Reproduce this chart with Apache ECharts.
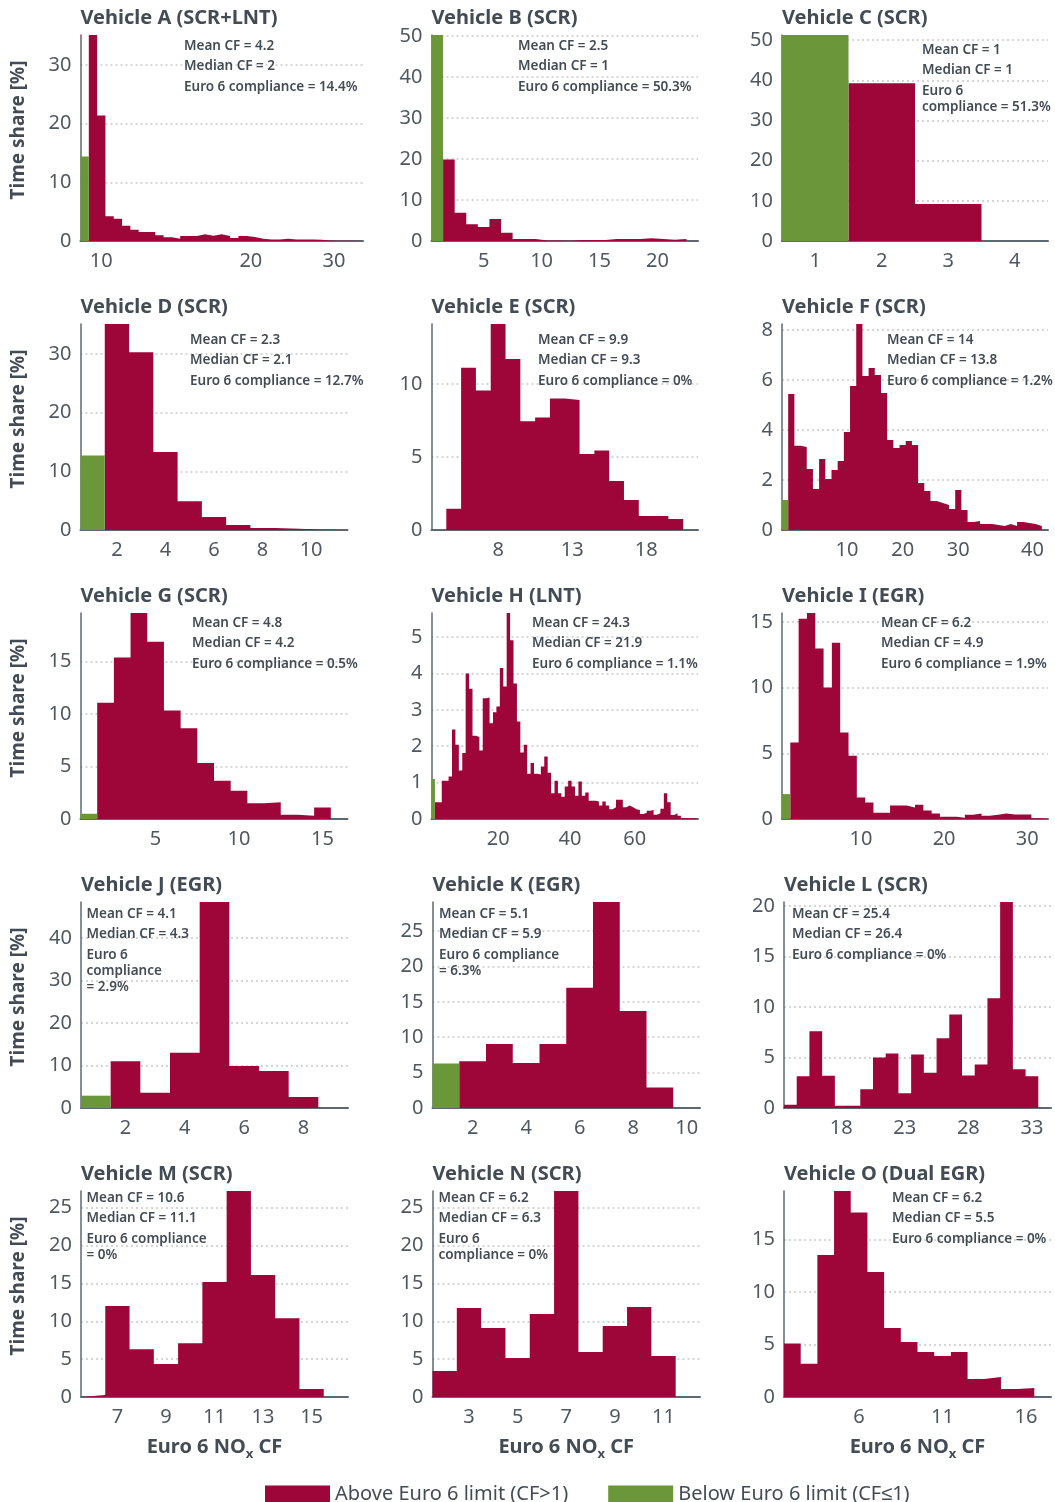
<!DOCTYPE html>
<html>
<head>
<meta charset="utf-8">
<script src="https://cdn.jsdelivr.net/npm/echarts@6.0.0/dist/echarts.min.js"></script>
<style>
html, body { margin: 0; padding: 0; background: #fff; }
#chart { width: 1055px; height: 1502px; }
</style>
</head>
<body>
<div id="chart"></div>
<script>
// time share [%] per CF bin, "below" bins (CF<=1) come first, then "above" bins
var belowA = [14.4];
var aboveA = [35.1, 21.4, 4.2, 3.8, 2.6, 1.9, 1.55, 1.55, 1.0, 0.65, 0.4, 0.85, 0.85, 1.15, 0.9, 1.15, 0.85, 0.5, 0.85, 0.7, 0.4, 0.25, 0.25, 0.4, 0.25, 0.25, 0.25, 0.2, 0.1, 0.05, 0.05, 0.05, 0];
var ticksA = [[2, '10'], [20, '20'], [30, '30']];
var notesA = ['Mean CF = 4.2', 'Median CF = 2', 'Euro 6 compliance = 14.4%'];

var belowB = [50.3];
var aboveB = [19.9, 6.9, 4.1, 3.4, 5.4, 2.0, 0.5, 0.5, 0.1, 0.1, 0.05, 0.25, 0.25, 0.25, 0.5, 0.5, 0.5, 0.7, 0.5, 0.3, 0.5, 0];
var ticksB = [[4, '5'], [9, '10'], [14, '15'], [19, '20']];
var notesB = ['Mean CF = 2.5', 'Median CF = 1', 'Euro 6 compliance = 50.3%'];

var belowC = [51.3];
var aboveC = [39.3, 9.2, 0];
var ticksC = [[0, '1'], [1, '2'], [2, '3'], [3, '4']];
var notesC = ['Mean CF = 1', 'Median CF = 1', 'Euro 6\ncompliance = 51.3%'];

var belowD = [12.7];
var aboveD = [35.1, 30.3, 13.3, 4.9, 2.2, 0.85, 0.35, 0.2, 0.05, 0.03];
var ticksD = [[1, '2'], [3, '4'], [5, '6'], [7, '8'], [9, '10']];
var notesD = ['Mean CF = 2.3', 'Median CF = 2.1', 'Euro 6 compliance = 12.7%'];

var belowE = [];
var aboveE = [0, 1.45, 11.1, 9.55, 14.1, 11.7, 7.45, 7.7, 9.0, 8.9, 5.2, 5.45, 3.35, 2.05, 0.95, 0.95, 0.75, 0];
var ticksE = [[4, '8'], [9, '13'], [14, '18']];
var notesE = ['Mean CF = 9.9', 'Median CF = 9.3', 'Euro 6 compliance = 0%'];

var belowF = [1.2];
var aboveF = [5.44, 3.37, 3.32, 2.44, 1.64, 2.84, 2.04, 2.4, 2.76, 3.92, 5.76, 8.24, 6.16, 6.48, 6.2, 5.48, 3.6, 3.28, 3.4, 3.56, 3.4, 1.88, 1.56, 1.16, 1.08, 1.0, 0.84, 1.6, 0.8, 0.32, 0.36, 0.24, 0.24, 0.2, 0.16, 0.24, 0.16, 0.32, 0.28, 0.24, 0.16, 0];
var ticksF = [[10, '10'], [19, '20'], [28, '30'], [40, '40']];
var notesF = ['Mean CF = 14', 'Median CF = 13.8', 'Euro 6 compliance = 1.2%'];

var belowG = [0.5];
var aboveG = [11.1, 15.4, 19.65, 16.9, 10.35, 8.65, 5.35, 3.65, 2.7, 1.5, 1.6, 0.4, 0.32, 1.1, 0];
var ticksG = [[4, '5'], [9, '10'], [14, '15']];
var notesG = ['Mean CF = 4.8', 'Median CF = 4.2', 'Euro 6 compliance = 0.5%'];

var belowH = [1.1];
var aboveH = [0.46, 0.46, 1.05, 1.05, 1.17, 2.46, 2.04, 1.33, 1.81, 4.0, 3.58, 2.29, 2.25, 1.88, 3.32, 3.34, 2.63, 2.93, 3.09, 4.15,
  3.64, 5.66, 4.91, 3.72, 2.68, 1.83, 2.04, 1.24, 1.54, 1.24, 1.22, 1.44, 1.72, 1.27, 0.71, 1.05, 0.71, 0.61, 0.89, 1.05,
  0.89, 0.64, 1.03, 0.64, 0.73, 0.5, 0.5, 0.48, 0.37, 0.48, 0.37, 0.27, 0.32, 0.53, 0.53, 0.32, 0.37, 0.32, 0.27, 0.25,
  0.14, 0.17, 0.23, 0.25, 0.12, 0.16, 0.28, 0.71, 0.46, 0.11, 0.16, 0.09, 0.03, 0.02, 0.02, 0.02, 0.02];
var ticksH = [[19, '20'], [40, '40'], [59, '60']];
var notesH = ['Mean CF = 24.3', 'Median CF = 21.9', 'Euro 6 compliance = 1.1%'];

var belowI = [1.9];
var aboveI = [5.83, 15.27, 15.7, 13.0, 10.03, 13.43, 6.59, 4.83, 1.63, 1.25, 0.48, 0.48, 1.02, 1.02, 0.87, 1.09, 0.64, 0.41, 0.18, 0.18, 0.1, 0.33, 0.41, 0.25, 0.33, 0.41, 0.35, 0.35, 0.35, 0.05, 0];
var ticksI = [[9, '10'], [19, '20'], [29, '30']];
var notesI = ['Mean CF = 6.2', 'Median CF = 4.9', 'Euro 6 compliance = 1.9%'];

var belowJ = [2.9];
var aboveJ = [11, 3.6, 13, 48.5, 9.9, 8.7, 2.6, 0];
var ticksJ = [[1, '2'], [3, '4'], [5, '6'], [7, '8']];
var notesJ = ['Mean CF = 4.1', 'Median CF = 4.3', 'Euro 6\ncompliance\n= 2.9%'];

var belowK = [6.3];
var aboveK = [6.6, 9.05, 6.37, 9.05, 17.0, 29.1, 13.7, 2.9, 0];
var ticksK = [[1, '2'], [3, '4'], [5, '6'], [7, '8'], [9, '10']];
var notesK = ['Mean CF = 5.1', 'Median CF = 5.9', 'Euro 6 compliance\n= 6.3%'];

var belowL = [];
var aboveL = [0.33, 3.14, 7.6, 3.2, 0.23, 0.23, 1.85, 5.0, 5.4, 1.45, 5.3, 3.5, 6.9, 9.27, 3.23, 4.32, 10.86, 20.4, 3.83, 3.14, 0];
var ticksL = [[4, '18'], [9, '23'], [14, '28'], [19, '33']];
var notesL = ['Mean CF = 25.4', 'Median CF = 26.4', 'Euro 6 compliance = 0%'];

var belowM = [];
var aboveM = [0.26, 12.0, 6.3, 4.35, 7.1, 15.2, 27.2, 16.1, 10.4, 1.05, 0];
var ticksM = [[1, '7'], [3, '9'], [5, '11'], [7, '13'], [9, '15']];
var notesM = ['Mean CF = 10.6', 'Median CF = 11.1', 'Euro 6 compliance\n= 0%'];

var belowN = [];
var aboveN = [3.44, 11.76, 9.1, 5.15, 10.97, 27.2, 5.95, 9.38, 11.9, 5.42, 0];
var ticksN = [[1, '3'], [3, '5'], [5, '7'], [7, '9'], [9, '11']];
var notesN = ['Mean CF = 6.2', 'Median CF = 6.3', 'Euro 6\ncompliance = 0%'];

var belowO = [];
var aboveO = [5.08, 3.17, 13.5, 19.6, 17.55, 11.9, 6.57, 5.24, 4.29, 3.9, 4.29, 1.71, 1.9, 0.76, 0.86, 0];
var ticksO = [[4, '6'], [9, '11'], [14, '16']];
var notesO = ['Mean CF = 6.2', 'Median CF = 5.5', 'Euro 6 compliance = 0%'];

var panels = [
    { title: 'Vehicle A (SCR+LNT)', below: belowA, above: aboveA, ticks: ticksA, notes: notesA, step: 10 },
    { title: 'Vehicle B (SCR)', below: belowB, above: aboveB, ticks: ticksB, notes: notesB, step: 10 },
    { title: 'Vehicle C (SCR)', below: belowC, above: aboveC, ticks: ticksC, notes: notesC, step: 10 },
    { title: 'Vehicle D (SCR)', below: belowD, above: aboveD, ticks: ticksD, notes: notesD, step: 10 },
    { title: 'Vehicle E (SCR)', below: belowE, above: aboveE, ticks: ticksE, notes: notesE, step: 5 },
    { title: 'Vehicle F (SCR)', below: belowF, above: aboveF, ticks: ticksF, notes: notesF, step: 2 },
    { title: 'Vehicle G (SCR)', below: belowG, above: aboveG, ticks: ticksG, notes: notesG, step: 5 },
    { title: 'Vehicle H (LNT)', below: belowH, above: aboveH, ticks: ticksH, notes: notesH, step: 1 },
    { title: 'Vehicle I (EGR)', below: belowI, above: aboveI, ticks: ticksI, notes: notesI, step: 5 },
    { title: 'Vehicle J (EGR)', below: belowJ, above: aboveJ, ticks: ticksJ, notes: notesJ, step: 10 },
    { title: 'Vehicle K (EGR)', below: belowK, above: aboveK, ticks: ticksK, notes: notesK, step: 5 },
    { title: 'Vehicle L (SCR)', below: belowL, above: aboveL, ticks: ticksL, notes: notesL, step: 5 },
    { title: 'Vehicle M (SCR)', below: belowM, above: aboveM, ticks: ticksM, notes: notesM, step: 5 },
    { title: 'Vehicle N (SCR)', below: belowN, above: aboveN, ticks: ticksN, notes: notesN, step: 5 },
    { title: 'Vehicle O (Dual EGR)', below: belowO, above: aboveO, ticks: ticksO, notes: notesO, step: 5 }
];

// plot boxes [left, top, width] and where the notes start [x, y of first line]
var boxes = [
    [80.5, 35, 282.5], [431.5, 35, 266.5], [782, 35, 266],
    [80.5, 324, 267], [431.5, 324, 266.5], [782, 324, 266],
    [80.5, 613, 267], [431.5, 613, 266.5], [782, 613, 266],
    [81, 902, 267], [432.5, 902, 267.5], [784, 902, 267],
    [81, 1191, 267], [432.5, 1191, 267.5], [784, 1191, 267]
];
var noteAt = [
    [184, 46], [518, 46], [922, 50],
    [190, 340], [538, 340], [887, 340],
    [192, 623], [532, 623], [881, 623],
    [86.5, 914], [439, 914], [792, 914],
    [86.5, 1198], [438.5, 1198], [892, 1198]
];

var ABOVE = 'Above Euro 6 limit (CF>1)', BELOW = 'Below Euro 6 limit (CF\u22641)';
var RED = '#9e0539', GREEN = '#6b963a', INK = '#434c55', TICK = '#4f5861', AXIS = '#5d6870';
var FONT = '"Noto Sans", sans-serif';

var chart = echarts.init(document.getElementById('chart'));
var option = {
    animation: false,
    title: [], grid: [], xAxis: [], yAxis: [], series: [], graphic: [],
    legend: {
        left: 265, top: 1484, padding: 0, itemWidth: 65, itemHeight: 17, itemGap: 40, icon: 'rect',
        data: [ABOVE, BELOW],
        textStyle: { fontSize: 20, color: INK, fontFamily: FONT }
    }
};

// one step-area per colour: bin k spans [k, k+1] on the x axis, drawn as one shape
function histSeries(name, color, start, values, i) {
    var pts = [[start, 0]];
    values.forEach(function (v, k) { pts.push([start + k + 1, v]); });
    return {
        type: 'line', name: name, xAxisIndex: i, yAxisIndex: i, data: pts,
        step: 'start', symbol: 'none', color: color, silent: true,
        lineStyle: { width: 0 },
        areaStyle: { color: color, opacity: 1 },
        emphasis: { disabled: true }
    };
}

panels.forEach(function (p, i) {
    var b = boxes[i];
    var nb = p.below.length;
    var n = nb + p.above.length;
    var tickMap = {}, tickVals = [];
    p.ticks.forEach(function (t) { tickMap[t[0] + 0.5] = t[1]; tickVals.push(t[0] + 0.5); });

    option.grid.push({ left: b[0], top: b[1], width: b[2], height: 206 });
    option.title.push({
        text: p.title, left: b[0], top: b[1] - 28, padding: 0,
        textStyle: { fontSize: 20, fontWeight: 'bold', color: INK, fontFamily: FONT, lineHeight: 22 }
    });

    var xa = {
        type: 'value', gridIndex: i, min: 0, max: n,
        axisLine: { show: true, onZero: false, lineStyle: { color: AXIS, width: 2 } },
        axisTick: { show: false },
        splitLine: { show: false },
        axisLabel: {
            customValues: tickVals, margin: 10, fontSize: 20, color: TICK, fontFamily: FONT,
            formatter: function (v) { return tickMap[v] || ''; }
        }
    };
    if (i >= 12) {
        xa.name = 'Euro 6 NO{sub|x} CF';
        xa.nameLocation = 'middle';
        xa.nameGap = 37;
        xa.nameTextStyle = {
            fontSize: 20, fontWeight: 'bold', color: INK, fontFamily: FONT,
            rich: { sub: { fontSize: 13, fontWeight: 'bold', color: INK, fontFamily: FONT, padding: [14, 0, 0, 0], verticalAlign: 'bottom' } }
        };
    }
    option.xAxis.push(xa);

    option.yAxis.push({
        type: 'value', gridIndex: i, min: 0, max: 'dataMax', interval: p.step,
        axisLine: { show: true, lineStyle: { color: AXIS, width: 1.5 } },
        axisTick: { show: false },
        axisLabel: { showMaxLabel: false, margin: 9, fontSize: 20, color: TICK, fontFamily: FONT },
        splitLine: { showMaxLine: false, lineStyle: { type: [2, 3], color: '#c9c9c9', width: 1.5 } }
    });

    option.series.push(histSeries(ABOVE, RED, nb, p.above, i));
    option.series.push(histSeries(BELOW, GREEN, 0, p.below, i));

    // Mean / median / compliance notes
    var y = noteAt[i][1] - 8;
    p.notes.forEach(function (t) {
        option.graphic.push({
            type: 'text', x: noteAt[i][0], y: y, z: 100,
            style: { text: t, font: '600 13.5px ' + FONT, fill: INK, lineHeight: 16, verticalAlign: 'top' }
        });
        y += 20.5 + (t.split('\n').length - 1) * 16;
    });

    if (i % 3 === 0) {
        option.graphic.push({
            type: 'text', x: 19, y: b[1] + 95, rotation: Math.PI / 2,
            style: { text: 'Time share [%]', font: 'bold 19px ' + FONT, fill: INK, align: 'center', verticalAlign: 'middle' }
        });
    }
});

chart.setOption(option);
</script>
</body>
</html>
